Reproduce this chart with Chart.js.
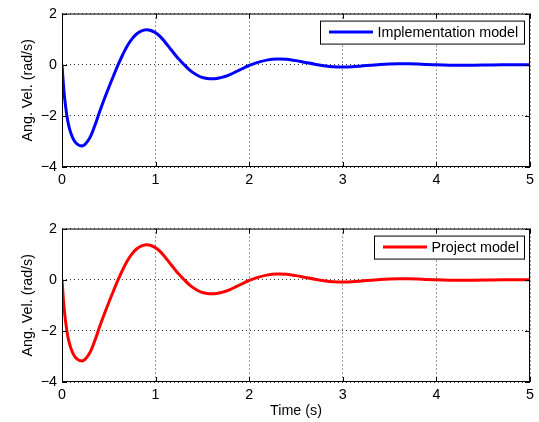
<!DOCTYPE html>
<html>
<head>
<meta charset="utf-8">
<title>Angular velocity response</title>
<script src="https://cdn.jsdelivr.net/npm/chart.js"></script>
<style>
body { margin: 0; background: #fff; }
.plot { position: absolute; left: 0; }
#top { top: 0; }
#bottom { top: 215px; }
</style>
</head>
<body>
<canvas id="top" class="plot" width="539" height="200"></canvas>
<canvas id="bottom" class="plot" width="539" height="207"></canvas>
<script>
// time samples (s)
const time = [0, 0.02, 0.04, 0.06, 0.08, 0.1, 0.12, 0.14, 0.16, 0.18, 0.2, 0.22, 0.25, 0.3, 0.35, 0.4, 0.45, 0.5, 0.55, 0.6, 0.65, 0.7, 0.75, 0.8, 0.85,
	0.9, 0.95, 1.0, 1.05, 1.1, 1.15, 1.2, 1.25, 1.3, 1.35, 1.4, 1.45, 1.5, 1.55, 1.6, 1.65, 1.7, 1.75, 1.8, 1.85,
	1.9, 1.95, 2.0, 2.1, 2.2, 2.3, 2.4, 2.5, 2.6, 2.7, 2.8, 2.9, 3.0, 3.1, 3.2, 3.3, 3.4, 3.5, 3.6, 3.7,
	3.8, 3.9, 4.0, 4.2, 4.4, 4.6, 4.8, 5.0];

// angular velocity, implementation model (rad/s)
const implVel = [0, -1.0, -1.68, -2.17, -2.5, -2.73, -2.9, -3.02, -3.1, -3.15, -3.17, -3.17, -3.1, -2.84, -2.39, -1.86, -1.36, -0.89, -0.44, 0.0, 0.40, 0.75, 1.02, 1.21, 1.32,
	1.37, 1.34, 1.25, 1.10, 0.89, 0.66, 0.43, 0.21, 0.02, -0.16, -0.31, -0.42, -0.50, -0.54, -0.55, -0.54, -0.50, -0.45, -0.38, -0.29,
	-0.20, -0.11, -0.03, 0.10, 0.19, 0.22, 0.21, 0.16, 0.09, 0.02, -0.04, -0.08, -0.09, -0.08, -0.05, -0.02, 0.01, 0.03, 0.04, 0.04,
	0.03, 0.01, 0.00, -0.02, -0.02, -0.01, 0.00, 0.00];

// angular velocity, project model (rad/s)
const projVel = [0, -1.0, -1.68, -2.17, -2.5, -2.73, -2.9, -3.02, -3.1, -3.15, -3.17, -3.17, -3.1, -2.84, -2.39, -1.86, -1.36, -0.89, -0.44, 0.0, 0.40, 0.75, 1.02, 1.21, 1.32,
	1.37, 1.34, 1.25, 1.10, 0.89, 0.66, 0.43, 0.21, 0.02, -0.16, -0.31, -0.42, -0.50, -0.54, -0.55, -0.54, -0.50, -0.45, -0.38, -0.29,
	-0.20, -0.11, -0.03, 0.10, 0.19, 0.22, 0.21, 0.16, 0.09, 0.02, -0.04, -0.08, -0.09, -0.08, -0.05, -0.02, 0.01, 0.03, 0.04, 0.04,
	0.03, 0.01, 0.00, -0.02, -0.02, -0.01, 0.00, 0.00];

const xTicks = [0, 1, 2, 3, 4, 5];
const yTicks = [-4, -2, 0, 2];

const FONT = 'Liberation Sans, Arial, Helvetica, sans-serif';
const FONT_SIZE = 14.3;

// box around the axes, inward tick marks and a MATLAB-like legend
const matlabBox = {
	id: 'matlabBox',
	afterDraw(chart) {
		const ctx = chart.ctx;
		const a = chart.chartArea;
		const xs = chart.scales.x, ys = chart.scales.y;
		ctx.save();
		ctx.strokeStyle = '#000';
		ctx.lineWidth = 1;
		ctx.strokeRect(a.left + 0.5, a.top + 0.5, a.right - a.left - 1, a.bottom - a.top - 1);
		ctx.beginPath();
		xTicks.forEach(v => {
			const px = Math.round(xs.getPixelForValue(v)) + 0.5;
			ctx.moveTo(px, a.bottom); ctx.lineTo(px, a.bottom - 5);
			ctx.moveTo(px, a.top); ctx.lineTo(px, a.top + 5);
		});
		yTicks.forEach(v => {
			const py = Math.round(ys.getPixelForValue(v)) + 0.5;
			ctx.moveTo(a.left, py); ctx.lineTo(a.left + 5, py);
			ctx.moveTo(a.right, py); ctx.lineTo(a.right - 5, py);
		});
		ctx.stroke();

		// legend
		const ds = chart.data.datasets[0];
		ctx.font = FONT_SIZE + 'px ' + FONT;
		const tw = ctx.measureText(ds.label).width;
		const w = Math.round(tw + 63), h = 23;
		const x0 = Math.round(a.right - 6 - w), y0 = a.top + 7;
		ctx.fillStyle = '#fff';
		ctx.fillRect(x0, y0, w, h);
		ctx.strokeRect(x0 + 0.5, y0 + 0.5, w, h);
		ctx.strokeStyle = ds.borderColor;
		ctx.lineWidth = 3;
		ctx.beginPath();
		ctx.moveTo(x0 + 9, y0 + 11.5); ctx.lineTo(x0 + 53, y0 + 11.5);
		ctx.stroke();
		ctx.fillStyle = '#000';
		ctx.textBaseline = 'middle';
		ctx.fillText(ds.label, x0 + 57.5, y0 + 12);
		ctx.restore();
	}
};

function makeChart(id, label, values, color, xBottom, showXTitle) {
	return new Chart(document.getElementById(id), {
		type: 'line',
		data: {
			datasets: [{
				label: label,
				data: time.map((t, i) => ({ x: t, y: values[i] })),
				borderColor: color,
				borderWidth: 3,
				pointRadius: 0,
				tension: 0.4,
				fill: false
			}]
		},
		options: {
			responsive: false,
			animation: false,
			layout: { padding: { top: 12, right: 9, left: 0, bottom: 0 } },
			plugins: { legend: { display: false }, tooltip: { enabled: false } },
			scales: {
				x: {
					type: 'linear',
					min: 0, max: 5,
					afterBuildTicks: s => { s.ticks = xTicks.map(v => ({ value: v })); },
					afterFit: s => { s.height = xBottom; },
					grid: { color: '#333', lineWidth: 1, drawTicks: false },
					border: { display: false, dash: [1, 3] },
					ticks: { color: '#000', font: { family: FONT, size: FONT_SIZE }, padding: 4, maxRotation: 0 },
					title: {
						display: showXTitle, text: 'Time (s)', color: '#000',
						font: { family: FONT, size: FONT_SIZE }, padding: { top: 0, bottom: 2 }
					}
				},
				y: {
					min: -4, max: 2,
					afterBuildTicks: s => { s.ticks = yTicks.map(v => ({ value: v })); },
					afterFit: s => { s.width = 62; },
					grid: { color: '#333', lineWidth: 1, drawTicks: false },
					border: { display: false, dash: [1, 3] },
					ticks: {
						color: '#000', font: { family: FONT, size: FONT_SIZE }, padding: 5,
						callback: v => v < 0 ? '\u2212' + Math.abs(v) : String(v)
					},
					title: {
						display: true, text: 'Ang. Vel. (rad/s)', color: '#000',
						font: { family: FONT, size: FONT_SIZE }, padding: { top: 19, bottom: 0 }
					}
				}
			}
		},
		plugins: [matlabBox]
	});
}

makeChart('top', 'Implementation model', implVel, '#0000ff', 33, false);
makeChart('bottom', 'Project model', projVel, '#ff0000', 40, true);
</script>
</body>
</html>
